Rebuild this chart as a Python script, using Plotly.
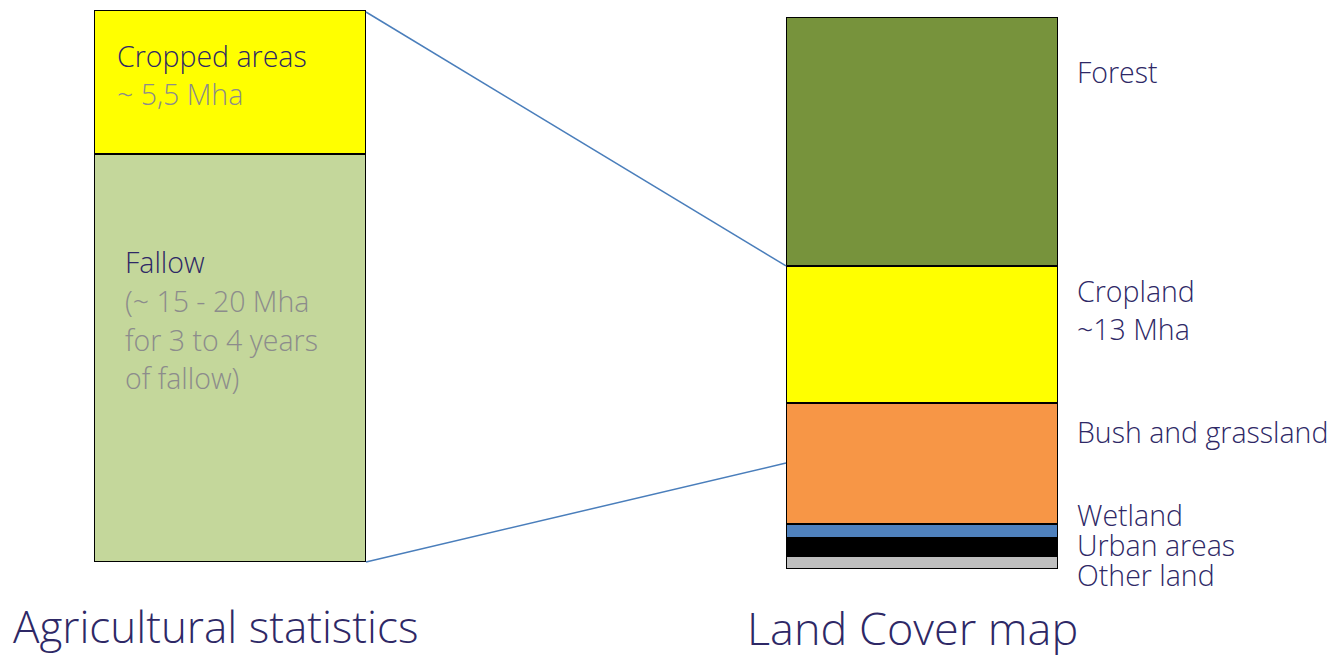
import plotly.graph_objects as go

# données (parts en % de la hauteur de chaque colonne)
stat_classes = ['Cropped areas', 'Fallow']
stat_values = [26.1, 73.9]
stat_colors = ['#FFFF00', '#C4D79B']

lc_classes = ['Other land', 'Urban areas', 'Wetland', 'Bush and grassland', 'Cropland', 'Forest']
lc_values = [2.4, 3.3, 2.5, 21.9, 24.8, 45.1]
lc_colors = ['#BFBFBF', '#000000', '#4F81BD', '#F79646', '#FFFF00', '#77933C']

# point du bush/grassland où arrive la ligne basse
link_low_value = 19.2

W, H = 1339, 657
NAVY = '#2E2866'
GREY = '#8C8C8C'
FONT = 'Open Sans'


def px(x):
    return x / W


def py(y):
    return 1 - y / H


left_x = [px(94), px(366)]
left_y = [py(562), py(10)]
right_x = [px(786), px(1058)]
right_y = [py(569), py(17)]

fig = go.Figure()

for name, val, col in zip(stat_classes[::-1], stat_values[::-1], stat_colors[::-1]):
    fig.add_trace(go.Bar(
        x=['stats'], y=[val], name=name,
        marker=dict(color=col, line=dict(color='black', width=2)),
        xaxis='x', yaxis='y', hoverinfo='name+y'
    ))

for name, val, col in zip(lc_classes, lc_values, lc_colors):
    fig.add_trace(go.Bar(
        x=['lc'], y=[val], name=name,
        marker=dict(color=col, line=dict(color='black', width=2)),
        xaxis='x2', yaxis='y2', hoverinfo='name+y'
    ))


def y2_paper(v):
    return right_y[0] + v / 100 * (right_y[1] - right_y[0])


# lignes de liaison
crop_top = sum(lc_values[:5])
link_color = '#4A7EBB'
shapes = [
    dict(type='line', xref='paper', yref='paper',
         x0=left_x[1], y0=left_y[1] - 2 / H, x1=right_x[0], y1=y2_paper(crop_top),
         line=dict(color=link_color, width=1.5)),
    dict(type='line', xref='paper', yref='paper',
         x0=left_x[1], y0=left_y[0], x1=right_x[0], y1=y2_paper(link_low_value),
         line=dict(color=link_color, width=1.5)),
]

annotations = []


def label(text, x, y, size=28.5, color=NAVY):
    annotations.append(dict(
        text=text, x=px(x), y=py(y), xref='paper', yref='paper',
        xanchor='left', yanchor='middle', showarrow=False, borderpad=0,
        font=dict(family=FONT, size=size, color=color, weight=300)
    ))


label('Cropped areas', 116, 56)
label('~ 5,5 Mha', 116, 94, color=GREY)
label('Fallow', 124, 262)
label('(~ 15 - 20 Mha', 124, 301, color=GREY)
label('for 3 to 4 years', 124, 340, color=GREY)
label('of fallow)', 124, 378, color=GREY)

label('Forest', 1076, 72)
label('Cropland', 1076, 291)
label('~13 Mha', 1076, 329)
label('Bush and grassland', 1076, 432)
label('Wetland', 1076, 515)
label('Urban areas', 1076, 545)
label('Other land', 1076, 575)

label('Agricultural statistics', 12, 626, size=44)
label('Land Cover map', 746, 627, size=45)

axis_off = dict(showgrid=False, zeroline=False, showticklabels=False, showline=False, fixedrange=True)

fig.update_layout(
    width=W, height=H,
    barmode='stack', bargap=0,
    showlegend=False,
    margin=dict(l=0, r=0, t=0, b=0),
    paper_bgcolor='white', plot_bgcolor='white',
    xaxis=dict(domain=left_x, **axis_off),
    yaxis=dict(domain=left_y, range=[0, 100], **axis_off),
    xaxis2=dict(domain=right_x, anchor='y2', **axis_off),
    yaxis2=dict(domain=right_y, range=[0, 100], anchor='x2', **axis_off),
    shapes=shapes,
    annotations=annotations,
)

fig.write_html("out.html", config=dict(displayModeBar=False),
               post_script="document.body.style.margin='0';document.body.style.overflow='hidden';")
